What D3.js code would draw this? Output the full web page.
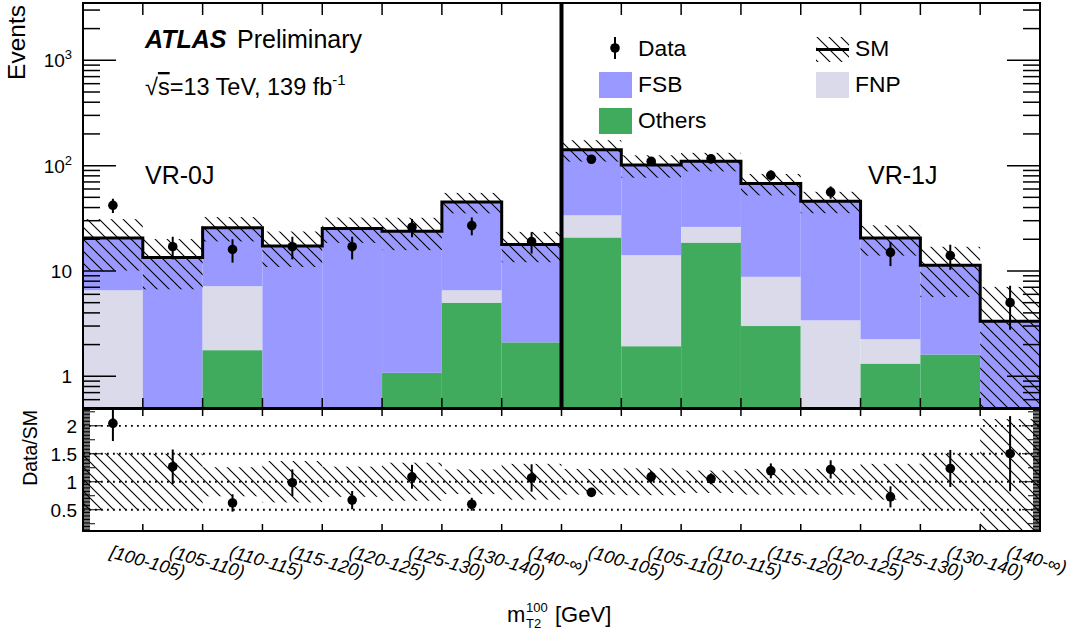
<!DOCTYPE html>
<html>
<head>
<meta charset="utf-8">
<script src="https://cdn.jsdelivr.net/npm/d3@7"></script>
<style>
  body { margin: 0; background: #fff; }
  text { font-family: "Liberation Sans", Arial, sans-serif; fill: #000; }
</style>
</head>
<body>
<div id="chart"></div>
<script>
// bins: 8 for VR-0J, 8 for VR-1J
const binLabels = ["[100-105)", "(105-110)", "(110-115)", "(115-120)", "(120-125)", "(125-130)", "(130-140)", "(140-\u221e)",
                   "(100-105)", "(105-110)", "(110-115)", "(115-120)", "(120-125)", "(125-130)", "(130-140)", "(140-\u221e)"];
const regionLabels = ["VR-0J", "VR-1J"];

// stacked backgrounds (bottom -> top : Others, FNP, FSB)
const others = [0, 0, 1.77, 0, 0, 1.08, 5.0, 2.1, 20.8, 1.93, 18.6, 3.0, 0, 1.32, 1.61, 0];
const fnp    = [6.56, 0, 5.4, 0, 0, 0, 1.56, 0, 13.0, 12.2, 7.6, 5.8, 3.4, 0.93, 0, 0];
const fsb    = [14.0, 13.4, 18.6, 17.3, 25.3, 22.8, 38.6, 15.7, 108, 87, 84, 59, 42.5, 18.3, 9.7, 3.33];
// observed events
const dataCounts = [42, 17, 16, 17, 17, 26, 27, 19, 115, 110, 116, 81, 56, 15, 14, 5];
// relative uncertainty on SM
const relUnc = [0.51, 0.5, 0.26, 0.37, 0.27, 0.34, 0.22, 0.32, 0.23, 0.24, 0.2, 0.23, 0.23, 0.32, 0.5, 1.12];

const mainTicks = [1, 10, 100, 1000];
const ratioTicks = [0.5, 1, 1.5, 2];

const colFSB = "#9999ff", colFNP = "#dadaea", colOthers = "#40ab5d";

const W = 1070, H = 637;
const x0 = 83, x1 = 1040;
const mainTop = 3, mainBot = 408, ratTop = 409, ratBot = 531;

const sm = fsb.map((d, i) => d + fnp[i] + others[i]);
const nBins = binLabels.length;

const svg = d3.select("#chart").append("svg")
    .attr("width", W).attr("height", H);
svg.append("rect").attr("width", W).attr("height", H).attr("fill", "#fff");

const defs = svg.append("defs");
// ROOT-like "\\\" hatch
const hp = defs.append("pattern").attr("id", "hatch")
    .attr("patternUnits", "userSpaceOnUse").attr("width", 12).attr("height", 12);
hp.append("path").attr("d", "M0,0 L12,12 M-2,10 L2,14 M10,-2 L14,2")
    .attr("stroke", "#000").attr("stroke-width", 1.1);

defs.append("clipPath").attr("id", "clipMain").append("rect")
    .attr("x", x0).attr("y", mainTop).attr("width", x1 - x0).attr("height", mainBot - mainTop);
defs.append("clipPath").attr("id", "clipRatio").append("rect")
    .attr("x", x0).attr("y", ratTop).attr("width", x1 - x0).attr("height", ratBot - ratTop);

const x = d3.scaleLinear().domain([0, nBins]).range([x0, x1]);
const y = d3.scaleLog().domain([0.5, 3500]).range([mainBot, mainTop]);
const r = d3.scaleLinear().domain([0.12, 2.3]).range([ratBot, ratTop]);
const ymin = y.domain()[0];
const yv = v => y(Math.max(v, ymin));

// ---------- main panel ----------
const gMain = svg.append("g").attr("clip-path", "url(#clipMain)");

const segs = [];
d3.range(nBins).forEach(i => {
  const a = others[i], b = a + fnp[i], c = sm[i];
  if (a > 0) segs.push({i, lo: ymin, hi: a, col: colOthers});
  if (fnp[i] > 0) segs.push({i, lo: Math.max(a, ymin), hi: b, col: colFNP});
  segs.push({i, lo: Math.max(b, ymin), hi: c, col: colFSB});
});
gMain.selectAll("rect.stack").data(segs).join("rect")
    .attr("class", "stack")
    .attr("x", d => x(d.i)).attr("width", d => x(d.i + 1) - x(d.i))
    .attr("y", d => yv(d.hi)).attr("height", d => yv(d.lo) - yv(d.hi))
    .attr("fill", d => d.col);

// SM uncertainty band
gMain.selectAll("rect.band").data(d3.range(nBins)).join("rect")
    .attr("class", "band")
    .attr("x", i => x(i)).attr("width", i => x(i + 1) - x(i))
    .attr("y", i => yv(sm[i] * (1 + relUnc[i])))
    .attr("height", i => yv(sm[i] * (1 - relUnc[i])) - yv(sm[i] * (1 + relUnc[i])))
    .attr("fill", "url(#hatch)");

// SM step line
let stepD = "";
d3.range(nBins).forEach(i => {
  stepD += (i === 0 ? "M" : "L") + x(i) + "," + y(sm[i]) + "L" + x(i + 1) + "," + y(sm[i]);
});
gMain.append("path").attr("d", stepD).attr("fill", "none")
    .attr("stroke", "#000").attr("stroke-width", 3);

// divider between regions
svg.append("line").attr("x1", x(8)).attr("x2", x(8)).attr("y1", mainTop).attr("y2", mainBot)
    .attr("stroke", "#000").attr("stroke-width", 4);

// data
const gData = gMain.append("g");
gData.selectAll("line").data(d3.range(nBins)).join("line")
    .attr("x1", i => x(i + 0.5)).attr("x2", i => x(i + 0.5))
    .attr("y1", i => yv(dataCounts[i] + Math.sqrt(dataCounts[i])))
    .attr("y2", i => yv(dataCounts[i] - Math.sqrt(dataCounts[i])))
    .attr("stroke", "#000").attr("stroke-width", 2);
gData.selectAll("circle").data(d3.range(nBins)).join("circle")
    .attr("cx", i => x(i + 0.5)).attr("cy", i => y(dataCounts[i])).attr("r", 4.8)
    .attr("fill", "#000");

// ---------- ratio panel ----------
const gRat = svg.append("g").attr("clip-path", "url(#clipRatio)");
gRat.selectAll("rect.band").data(d3.range(nBins)).join("rect")
    .attr("x", i => x(i)).attr("width", i => x(i + 1) - x(i))
    .attr("y", i => r(1 + relUnc[i]))
    .attr("height", i => r(1 - relUnc[i]) - r(1 + relUnc[i]))
    .attr("fill", "url(#hatch)");
gRat.selectAll("line.grid").data(ratioTicks).join("line")
    .attr("class", "grid")
    .attr("x1", x0).attr("x2", x1).attr("y1", d => r(d)).attr("y2", d => r(d))
    .attr("stroke", "#000").attr("stroke-width", 1.8).attr("stroke-dasharray", "1.8,4.2");
gRat.selectAll("line.err").data(d3.range(nBins)).join("line")
    .attr("class", "err")
    .attr("x1", i => x(i + 0.5)).attr("x2", i => x(i + 0.5))
    .attr("y1", i => r((dataCounts[i] + Math.sqrt(dataCounts[i])) / sm[i]))
    .attr("y2", i => r((dataCounts[i] - Math.sqrt(dataCounts[i])) / sm[i]))
    .attr("stroke", "#000").attr("stroke-width", 2);
gRat.selectAll("circle").data(d3.range(nBins)).join("circle")
    .attr("cx", i => x(i + 0.5)).attr("cy", i => r(dataCounts[i] / sm[i])).attr("r", 4.8)
    .attr("fill", "#000");

// ---------- frames and ticks ----------
const gAx = svg.append("g").attr("stroke", "#000").attr("fill", "none");
gAx.append("rect").attr("x", x0).attr("y", mainTop).attr("width", x1 - x0).attr("height", mainBot - mainTop)
    .attr("stroke-width", 2);
gAx.append("rect").attr("x", x0).attr("y", ratTop).attr("width", x1 - x0).attr("height", ratBot - ratTop)
    .attr("stroke-width", 2);

// main y ticks (log)
const logTicks = [];
[-1, 0, 1, 2, 3].forEach(e => {
  for (let k = 1; k <= 9; k++) {
    const v = k * Math.pow(10, e);
    if (v >= 0.5 && v <= 3500) logTicks.push({v, major: k === 1});
  }
});
logTicks.forEach(t => {
  const len = t.major ? 33 : 17, yy = y(t.v);
  gAx.append("line").attr("x1", x0).attr("x2", x0 + len).attr("y1", yy).attr("y2", yy).attr("stroke-width", 1.5);
  gAx.append("line").attr("x1", x1 - len).attr("x2", x1).attr("y1", yy).attr("y2", yy).attr("stroke-width", 1.5);
});

// ratio y ticks
d3.range(0.125, 2.3, 0.025).forEach(v => {
  const q = Math.round(v / 0.025);
  const len = q % 20 === 0 ? 18 : (q % 10 === 0 ? 12 : 7);
  const yy = r(v);
  gAx.append("line").attr("x1", x0).attr("x2", x0 + len).attr("y1", yy).attr("y2", yy).attr("stroke-width", 1);
  gAx.append("line").attr("x1", x1 - len).attr("x2", x1).attr("y1", yy).attr("y2", yy).attr("stroke-width", 1);
});

// x ticks at bin edges
d3.range(1, nBins).forEach(i => {
  const xx = x(i);
  [[mainTop, mainTop + 12], [mainBot - 10, mainBot], [ratTop, ratTop + 7], [ratBot - 7, ratBot]].forEach(p => {
    gAx.append("line").attr("x1", xx).attr("x2", xx).attr("y1", p[0]).attr("y2", p[1]).attr("stroke-width", 1.5);
  });
});

// ---------- text ----------
// main y labels
mainTicks.forEach(v => {
  const e = Math.round(Math.log10(v));
  const t = svg.append("text").attr("x", 72).attr("y", y(v) + 7)
      .attr("text-anchor", "end").attr("font-size", 19);
  if (e <= 1) t.text(v);
  else {
    t.append("tspan").text("10");
    t.append("tspan").attr("dy", -8).attr("font-size", 13).text(e);
  }
});
// ratio y labels
ratioTicks.forEach(v => {
  svg.append("text").attr("x", 77).attr("y", r(v) + 7)
      .attr("text-anchor", "end").attr("font-size", 19).text(v);
});

svg.append("text").attr("transform", "translate(25,5) rotate(-90)")
    .attr("text-anchor", "end").attr("font-size", 24.5).text("Events");
svg.append("text").attr("transform", "translate(37,410) rotate(-90)")
    .attr("text-anchor", "end").attr("font-size", 19.5).text("Data/SM");

// x bin labels
binLabels.forEach((lab, i) => {
  svg.append("text")
      .attr("transform", `translate(${x(i + 0.5) - 4},557) rotate(16)`)
      .attr("font-size", 18).attr("font-style", "italic").text(lab);
});

// x title
svg.append("text").attr("x", 507).attr("y", 622).attr("font-size", 22).text("m");
svg.append("text").attr("x", 526).attr("y", 612).attr("font-size", 13).text("100");
svg.append("text").attr("x", 526).attr("y", 628).attr("font-size", 13).text("T2");
svg.append("text").attr("x", 555).attr("y", 622).attr("font-size", 22).text("[GeV]");

// ATLAS label
const atl = svg.append("text").attr("x", 145).attr("y", 48).attr("font-size", 25);
atl.append("tspan").attr("font-weight", "bold").attr("font-style", "italic").text("ATLAS");
atl.append("tspan").attr("x", 237).text("Preliminary");
const en = svg.append("text").attr("x", 145).attr("y", 95).attr("font-size", 23.5);
en.append("tspan").text("\u221a");
en.append("tspan").attr("text-decoration", "overline").text("s");
en.append("tspan").text("=13 TeV, 139 fb");
en.append("tspan").attr("dy", -10).attr("font-size", 15).text("-1");

// region labels
svg.append("text").attr("x", 145).attr("y", 184).attr("font-size", 25).text(regionLabels[0]);
svg.append("text").attr("x", 868).attr("y", 184).attr("font-size", 25).text(regionLabels[1]);

// ---------- legend ----------
const leg = svg.append("g");
leg.append("line").attr("x1", 615).attr("x2", 615).attr("y1", 37).attr("y2", 59)
    .attr("stroke", "#000").attr("stroke-width", 2);
leg.append("circle").attr("cx", 615).attr("cy", 48).attr("r", 4.8).attr("fill", "#000");
leg.append("text").attr("x", 638).attr("y", 56).attr("font-size", 22.8).text("Data");

const boxes = [
  {x: 599, y: 72, col: colFSB, lab: "FSB"},
  {x: 599, y: 108, col: colOthers, lab: "Others"},
  {x: 816, y: 72, col: colFNP, lab: "FNP"}
];
boxes.forEach(b => {
  leg.append("rect").attr("x", b.x).attr("y", b.y).attr("width", 33).attr("height", 26).attr("fill", b.col);
  leg.append("text").attr("x", b.x + 39).attr("y", b.y + 20).attr("font-size", 22.8).text(b.lab);
});
leg.append("rect").attr("x", 816).attr("y", 37).attr("width", 33).attr("height", 25).attr("fill", "url(#hatch)");
leg.append("line").attr("x1", 816).attr("x2", 849).attr("y1", 49.5).attr("y2", 49.5)
    .attr("stroke", "#000").attr("stroke-width", 3);
leg.append("text").attr("x", 855).attr("y", 56).attr("font-size", 22.8).text("SM");
</script>
</body>
</html>
